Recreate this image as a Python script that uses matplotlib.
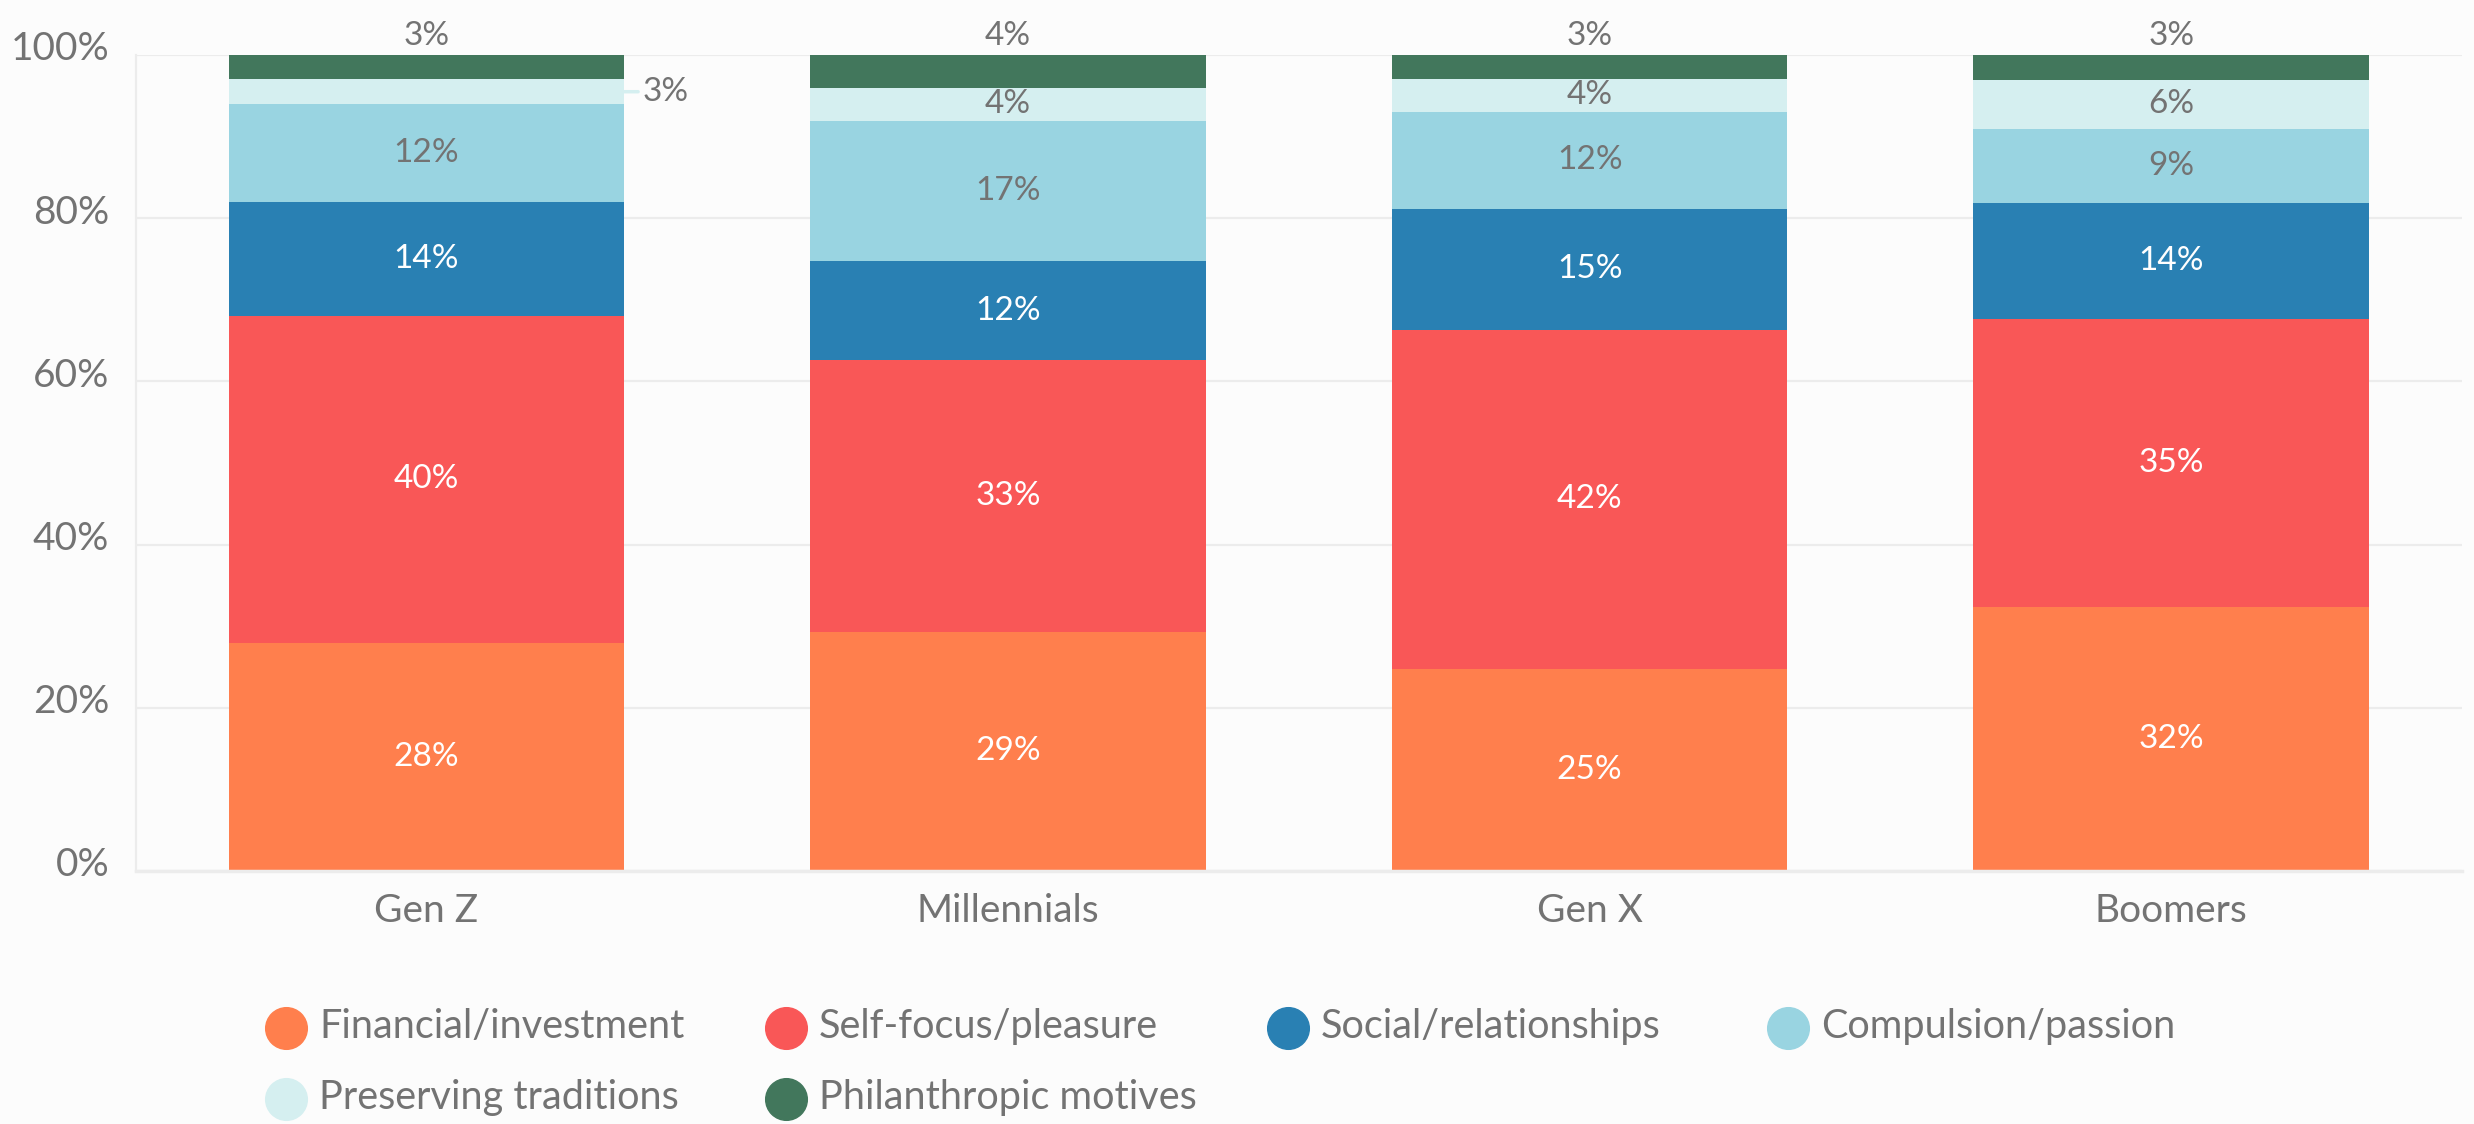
import matplotlib
matplotlib.use("Agg")
import matplotlib.pyplot as plt
from matplotlib.lines import Line2D
from matplotlib.transforms import ScaledTranslation
import numpy as np

# --- data -------------------------------------------------------------
generations = ["Gen Z", "Millennials", "Gen X", "Boomers"]
motives = ["Financial/investment", "Self-focus/pleasure", "Social/relationships",
           "Compulsion/passion", "Preserving traditions", "Philanthropic motives"]
financial = [28, 29, 25, 32]
self_focus = [40, 33, 42, 35]
social = [14, 12, 15, 14]
compulsion = [12, 17, 12, 9]
traditions = [3, 4, 4, 6]
philanthropic = [3, 4, 3, 3]
y_ticks = [0, 20, 40, 60, 80, 100]

# --- style ------------------------------------------------------------
colors = ["#ff7f4d", "#f95757", "#2980b3", "#99d4e1", "#d5eff0", "#42775c"]
label_colors = ["white", "white", "white", "#737373", "#737373", "#737373"]
text_gray = "#737373"
grid_gray = "#ececec"
bg = "#fcfcfc"

plt.rcParams["font.family"] = ["Lato", "DejaVu Sans"]

W, H = 2474, 1124
fig = plt.figure(figsize=(W / 100, H / 100), dpi=100, facecolor=bg)
ax = fig.add_axes([135.7 / W, 1 - 871 / H, (2462 - 135.7) / W, (871 - 55) / H])
ax.set_facecolor(bg)

series = np.array([financial, self_focus, social, compulsion, traditions, philanthropic], dtype=float)
totals = series.sum(axis=0)
shares = series / totals * 100.0  # percent stacking

x = np.arange(len(generations))
bar_w = 0.68
bottom = np.zeros(len(generations))
n_series = len(motives)
for i in range(n_series):
    ax.bar(x, shares[i], bar_w, bottom=bottom, color=colors[i], label=motives[i],
           zorder=2, linewidth=0)
    for j in range(len(generations)):
        val = int(series[i, j])
        mid = bottom[j] + shares[i, j] / 2
        if i == n_series - 1:
            # top segment: label sits above the column
            ax.annotate(f"{val}%", (x[j], bottom[j] + shares[i, j]), xytext=(0, 13.5),
                        textcoords="offset points", ha="center", va="center",
                        fontsize=24, color=text_gray, annotation_clip=False, zorder=4)
        elif val < 4:
            # too thin for an inside label: pull it out to the right
            ax.annotate(f"{val}%", (x[j] + bar_w / 2, mid), xytext=(13, 0),
                        textcoords="offset points", ha="left", va="center",
                        fontsize=24, color=text_gray, annotation_clip=False, zorder=4,
                        arrowprops=dict(arrowstyle="-", color=colors[i], lw=2.5,
                                        shrinkA=1, shrinkB=0))
        else:
            ax.text(x[j], mid, f"{val}%", ha="center", va="center",
                    fontsize=24, color=label_colors[i], zorder=4)
    bottom += shares[i]

# --- axes -------------------------------------------------------------
ax.set_xlim(-0.5, 3.5)
ax.set_ylim(0, 100)
ax.set_yticks(y_ticks)
ax.set_yticklabels([f"{t}%" for t in y_ticks])
ax.set_xticks(x)
ax.set_xticklabels(generations)
ax.tick_params(axis="y", length=0, pad=19, labelsize=28, labelcolor=text_gray)
ax.tick_params(axis="x", length=0, pad=16, labelsize=28, labelcolor=text_gray)
lift = ScaledTranslation(0, 6.5 / 72, fig.dpi_scale_trans)
for lbl in ax.get_yticklabels():
    lbl.set_transform(lbl.get_transform() + lift)
ax.yaxis.grid(True, color=grid_gray, linewidth=1.6, zorder=0)
ax.set_axisbelow(True)
for side in ("top", "right"):
    ax.spines[side].set_visible(False)
ax.spines["left"].set_color(grid_gray)
ax.spines["left"].set_linewidth(1.6)
ax.spines["bottom"].set_color(grid_gray)
ax.spines["bottom"].set_linewidth(2.5)

# --- legend (four-column grid) ---------------------------------------
legend_x = [286, 786, 1288, 1788]
legend_y = [1028, 1099]
for k, (name, c) in enumerate(zip(motives, colors)):
    r, col = divmod(k, 4)
    xm = legend_x[col] / W
    ym = 1 - legend_y[r] / H
    fig.add_artist(Line2D([xm], [ym], marker="o", markersize=30, color=c,
                          linestyle="none", transform=fig.transFigure))
    fig.text(xm + 33 / W, ym + 5 / H, name, ha="left", va="center_baseline",
             fontsize=28.5, color=text_gray)

fig.savefig("out.png", dpi=100, facecolor=bg)
